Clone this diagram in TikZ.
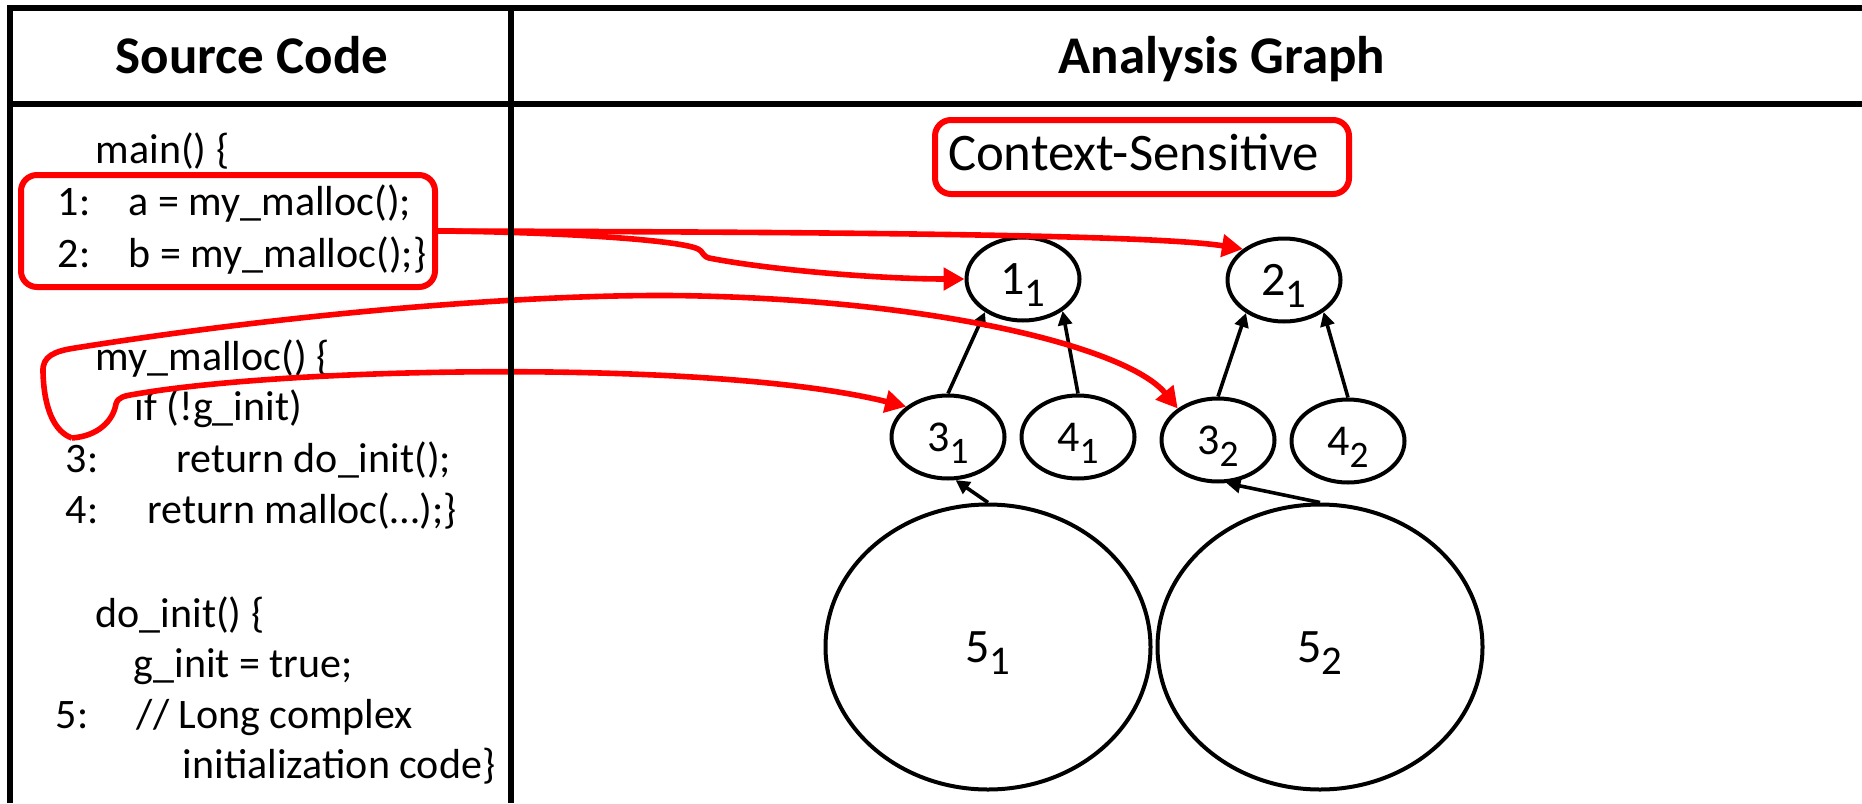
\documentclass[tikz,border=0pt]{standalone}
\usepackage{fontspec}
\setmainfont{Carlito}
\usepackage{graphicx}
\usetikzlibrary{arrows.meta,shapes.geometric}
\definecolor{hlred}{HTML}{FF0000}
\newcommand{\ctxlbl}[2]{#1\raisebox{-3pt}{\scalebox{0.85}{#2}}}
\tikzset{
  rule/.style={line width=1.5pt,draw=black},
  head/.style={font=\fontsize{13.25}{16}\selectfont\bfseries,anchor=base,inner sep=0pt},
  code/.style={font=\fontsize{10.5}{12.9}\selectfont,anchor=base west,inner sep=0pt},
  hl/.style={draw=hlred,line width=1.5pt,rounded corners=4pt,inner sep=0pt},
  obj/.style={ellipse,draw,line width=1pt,inner sep=0pt,text depth=0pt,
    minimum width=28.25pt,minimum height=20.75pt,font=\fontsize{11}{13}\selectfont},
  objtop/.style={obj,font=\fontsize{12}{14}\selectfont},
  objbig/.style={obj,minimum width=81.25pt,minimum height=71.25pt,
    font=\fontsize{12}{14}\selectfont},
  dep/.style={-{Triangle[length=3.5pt,width=3.5pt]},line width=0.9pt},
  link/.style={-{Triangle[length=5.25pt,width=5.5pt]},line width=1.4pt,draw=hlred},
}

\begin{document}
\begin{tikzpicture}[x=0.25pt,y=-0.25pt]
  \useasboundingbox (0,0) rectangle (1862,803);
  % ---- headers ----
  \node[head] (hsrc)   at (252,73)  {Source Code};
  \node[head] (hgraph) at (1222,73) {Analysis Graph};
  % ---- left: the source code ----
  \node[code] (c0)   at (95,163)  {main() \{};
  \node[code] (num1) at (57,215)  {1:};
  \node[code] (c1)   at (128,215) {a = my\_malloc();};
  \node[code] (num2) at (57,267)  {2:};
  \node[code] (c2)   at (128,267) {b = my\_malloc();\}};
  \node[code] (c3)   at (95,370)  {my\_malloc() \{};
  \node[code] (c4)   at (134,420) {if (!g\_init)};
  \node[code] (num3) at (65,472)  {3:};
  \node[code] (c5)   at (176,472) {return do\_init();};
  \node[code] (num4) at (65,523)  {4:};
  \node[code] (c6)   at (147,523) {return malloc(…);\}};
  \node[code] (c7)   at (95,627)  {do\_init() \{};
  \node[code] (c8)   at (133,677) {g\_init = true;};
  \node[code] (num5) at (55,728)  {5:};
  \node[code] (c9)   at (136,728) {// Long complex};
  \node[code] (c10)  at (182,778) {initialization code\}};
  \node[hl,minimum width=103.5pt,minimum height=28pt] (srcbox) at (228,231) {};
  \coordinate (call3) at (72,438);
  % ---- right: the analysis graph ----
  \node[hl,minimum height=18.5pt,text width=97pt,align=left,inner xsep=3.25pt,
    text depth=2.5pt,font=\fontsize{13.2}{15}\selectfont] (ctx) at (1142,157) {Context-Sensitive};
  \node[objtop] (n11) at (1023,279) {\ctxlbl{1}{1}};
  \node[objtop] (n21) at (1284,280) {\ctxlbl{2}{1}};
  \node[obj]    (n31) at (948,437)  {\ctxlbl{3}{1}};
  \node[obj]    (n41) at (1078,437) {\ctxlbl{4}{1}};
  \node[obj]    (n32) at (1218,440) {\ctxlbl{3}{2}};
  \node[obj]    (n42) at (1348,441) {\ctxlbl{4}{2}};
  \node[objbig] (n51) at (988,647)  {\ctxlbl{5}{1}};
  \node[objbig] (n52) at (1320,647) {\ctxlbl{5}{2}};
  \draw[dep] (n31.north) -- (n11.221);
  \draw[dep] (n41.north) -- (n11.321);
  \draw[dep] (n32.north) -- (n21.221);
  \draw[dep] (n42.north) -- (n21.321);
  \draw[dep] (n51.north) -- (n31.280);
  \draw[dep] (n52.north) -- (n32.281);
  % ---- red links: code lines to their contexts ----
  \draw[link] (srcbox.east) .. controls (800,232) and (1150,234) .. (n21.143);
  \draw[link] (srcbox.east) .. controls (560,232) and (680,240) .. (698,249)
    .. controls (703,251) and (702,256) .. (709,258)
    .. controls (770,270) and (880,279) .. (n11.west);
  \draw[link] (call3) .. controls (98,436) and (113,421) .. (116,404)
    .. controls (118,397) and (124,396) .. (136,394)
    .. controls (300,366) and (720,360) .. (n31.144);
  \draw[link] (call3) .. controls (55,432) and (44,410) .. (43,372)
    .. controls (42,356) and (55,351) .. (75,348)
    .. controls (300,312) and (550,292) .. (700,296)
    .. controls (950,302) and (1130,350) .. (n32.142);
  % ---- table rules ----
  \draw[rule,line join=miter] (10,803) -- (10,8) -- (1862,8);
  \draw[rule] (10,104) -- (1862,104);
  \draw[rule] (511,8) -- (511,803);
\end{tikzpicture}
\end{document}
